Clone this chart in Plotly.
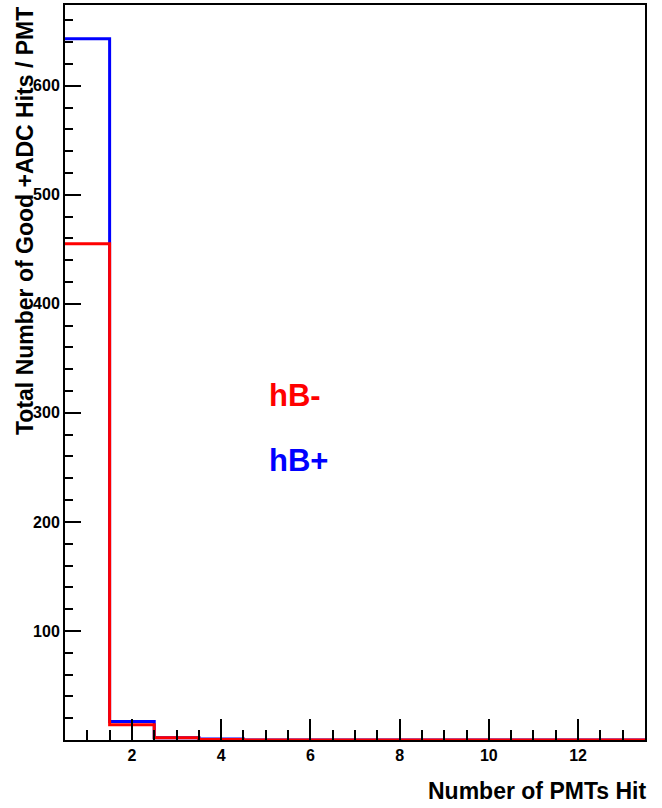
import plotly.graph_objects as go

# Data: bin edges and counts
bin_edges = [0.5, 1.5, 2.5, 3.5, 4.5, 5.5, 6.5, 7.5, 8.5, 9.5, 10.5, 11.5, 12.5, 13.5]
hB_plus = [643, 17, 2, 1, 0, 0, 0, 0, 0, 0, 0, 0, 0]
hB_minus = [455, 14, 2, 0.5, 0, 0, 0, 0, 0, 0, 0, 0, 0]
x_tick_vals = [2, 4, 6, 8, 10, 12]
y_tick_vals = [100, 200, 300, 400, 500, 600]

font_family = "Liberation Sans, Arial, sans-serif"

fig = go.Figure()
for vals, color, name in [(hB_plus, "#0000ff", "hB+"), (hB_minus, "#ff0000", "hB-")]:
    fig.add_trace(go.Scatter(
        x=bin_edges, y=list(vals) + [vals[-1]],
        mode="lines", line=dict(color=color, width=3, shape="hv"),
        name=name, showlegend=False, cliponaxis=True,
    ))

fig.update_layout(
    width=662, height=808,
    margin=dict(l=65, r=17, t=5, b=68),
    paper_bgcolor="white", plot_bgcolor="white",
    font=dict(family=font_family, color="black"),
)
fig.update_xaxes(
    range=[0.5, 13.5], showgrid=False, zeroline=False, automargin=False,
    showline=True, linecolor="black", linewidth=2, mirror=True,
    ticks="inside", ticklen=21, tickwidth=2, tickcolor="black",
    tickvals=x_tick_vals,
    tickfont=dict(size=16, family=font_family, weight="bold"),
    minor=dict(dtick=0.5, tick0=0.5, ticks="inside", ticklen=10, tickwidth=2, tickcolor="black"),
)
fig.update_yaxes(
    range=[0, 674], showgrid=False, zeroline=False, automargin=False,
    showline=True, linecolor="black", linewidth=2, mirror=True,
    ticks="inside", ticklen=16, tickwidth=2, tickcolor="black",
    tickvals=y_tick_vals,
    tickfont=dict(size=16, family=font_family, weight="bold"),
    minor=dict(dtick=20, tick0=0, ticks="inside", ticklen=8, tickwidth=2, tickcolor="black"),
)

fig.add_annotation(
    text="Total Number of Good +ADC Hits / PMT", textangle=-90,
    xref="paper", yref="paper", x=-0.069, y=1.0, xanchor="center", yanchor="top",
    showarrow=False, font=dict(size=23, family=font_family, weight="bold", color="black"),
)
fig.add_annotation(
    text="Number of PMTs Hit",
    xref="paper", yref="paper", x=1.006, y=-0.0694, xanchor="right", yanchor="middle",
    showarrow=False, font=dict(size=23, family=font_family, weight="bold", color="black"),
)
fig.add_annotation(
    text="hB-", xref="paper", yref="paper", x=0.348, y=0.469, xanchor="left", yanchor="middle",
    showarrow=False, font=dict(size=31, family=font_family, weight="bold", color="#ff0000"),
)
fig.add_annotation(
    text="hB+", xref="paper", yref="paper", x=0.348, y=0.380, xanchor="left", yanchor="middle",
    showarrow=False, font=dict(size=31, family=font_family, weight="bold", color="#0000ff"),
)

fig.write_html("out.html", config={"displayModeBar": False},
               post_script="document.body.style.margin='0';")
